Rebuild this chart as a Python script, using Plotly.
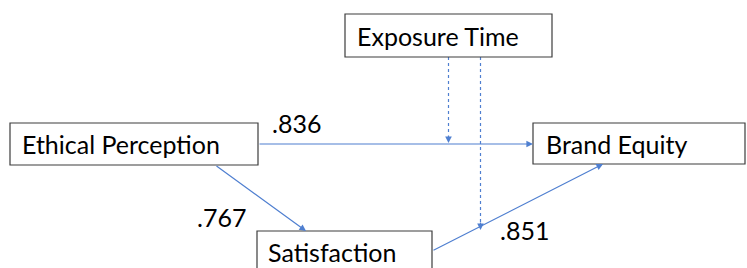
import plotly.graph_objects as go

# ---- data ----
node_names = ["Ethical Perception", "Exposure Time", "Brand Equity", "Satisfaction"]
path_labels = [".836", ".767", ".851"]

# ---- layout (pixel space, y downward) ----
W, H = 747, 268
boxes = {
    "Ethical Perception": (10, 123, 258, 165),
    "Exposure Time": (345, 14, 552, 57),
    "Brand Equity": (533, 123, 745, 164),
    "Satisfaction": (257, 231, 432, 290),
}
text_pos = {
    "Ethical Perception": (20, 144),
    "Exposure Time": (355, 36),
    "Brand Equity": (544, 144),
    "Satisfaction": (266, 252),
}
label_pos = [(270, 123), (195, 217), (498, 230)]

BLUE = "#4f7fd0"
FONT = "Lato"
FS = 25

fig = go.Figure()
fig.add_trace(go.Scatter(x=[0, W], y=[0, H], mode="markers",
                         marker=dict(opacity=0), hoverinfo="skip", showlegend=False))

shapes = []
for name in node_names:
    x0, y0, x1, y1 = boxes[name]
    shapes.append(dict(type="rect", x0=x0, y0=y0, x1=x1, y1=y1, xref="x", yref="y",
                       line=dict(color="#3c3c3c", width=1.2), fillcolor="white", layer="above"))

# dotted moderator lines
dotted = [((448.5, 57), (448.5, 143)), ((480.5, 57), (480.5, 230))]
for (xa, ya), (xb, yb) in dotted:
    shapes.append(dict(type="line", x0=xa, y0=ya, x1=xb, y1=yb - 8, xref="x", yref="y",
                       line=dict(color=BLUE, width=1.2, dash="dot"), layer="below"))

annotations = []
# solid arrows: (tail, head)
solid = [((258, 144), (533, 144)), ((215, 165), (306, 231)), ((432, 251), (603, 164))]
for (tx, ty), (hx, hy) in solid:
    annotations.append(dict(x=hx, y=hy, ax=tx, ay=ty, xref="x", yref="y", axref="x", ayref="y",
                            showarrow=True, arrowhead=2, arrowsize=1.1, arrowwidth=1.2,
                            arrowcolor=BLUE, text=""))
# dotted arrowheads
for (xa, ya), (xb, yb) in dotted:
    annotations.append(dict(x=xb, y=yb, ax=xb, ay=yb - 9, xref="x", yref="y", axref="x", ayref="y",
                            showarrow=True, arrowhead=2, arrowsize=1.1, arrowwidth=1.2,
                            arrowcolor=BLUE, text=""))

for name in node_names:
    x, y = text_pos[name]
    annotations.append(dict(x=x, y=y, xref="x", yref="y", text=name, showarrow=False,
                            xanchor="left", yanchor="middle",
                            font=dict(family=FONT, size=FS, color="black")))
for lab, (x, y) in zip(path_labels, label_pos):
    annotations.append(dict(x=x, y=y, xref="x", yref="y", text=lab, showarrow=False,
                            xanchor="left", yanchor="middle",
                            font=dict(family=FONT, size=FS, color="black")))

fig.update_layout(
    width=W, height=H, margin=dict(l=0, r=0, t=0, b=0),
    paper_bgcolor="white", plot_bgcolor="white",
    xaxis=dict(range=[0, W], visible=False, fixedrange=True),
    yaxis=dict(range=[H, 0], visible=False, fixedrange=True),
    shapes=shapes, annotations=annotations, showlegend=False,
)
fig.write_html("out.html", config={"staticPlot": True},
               post_script="document.body.style.margin='0px';document.body.style.padding='0px';")
